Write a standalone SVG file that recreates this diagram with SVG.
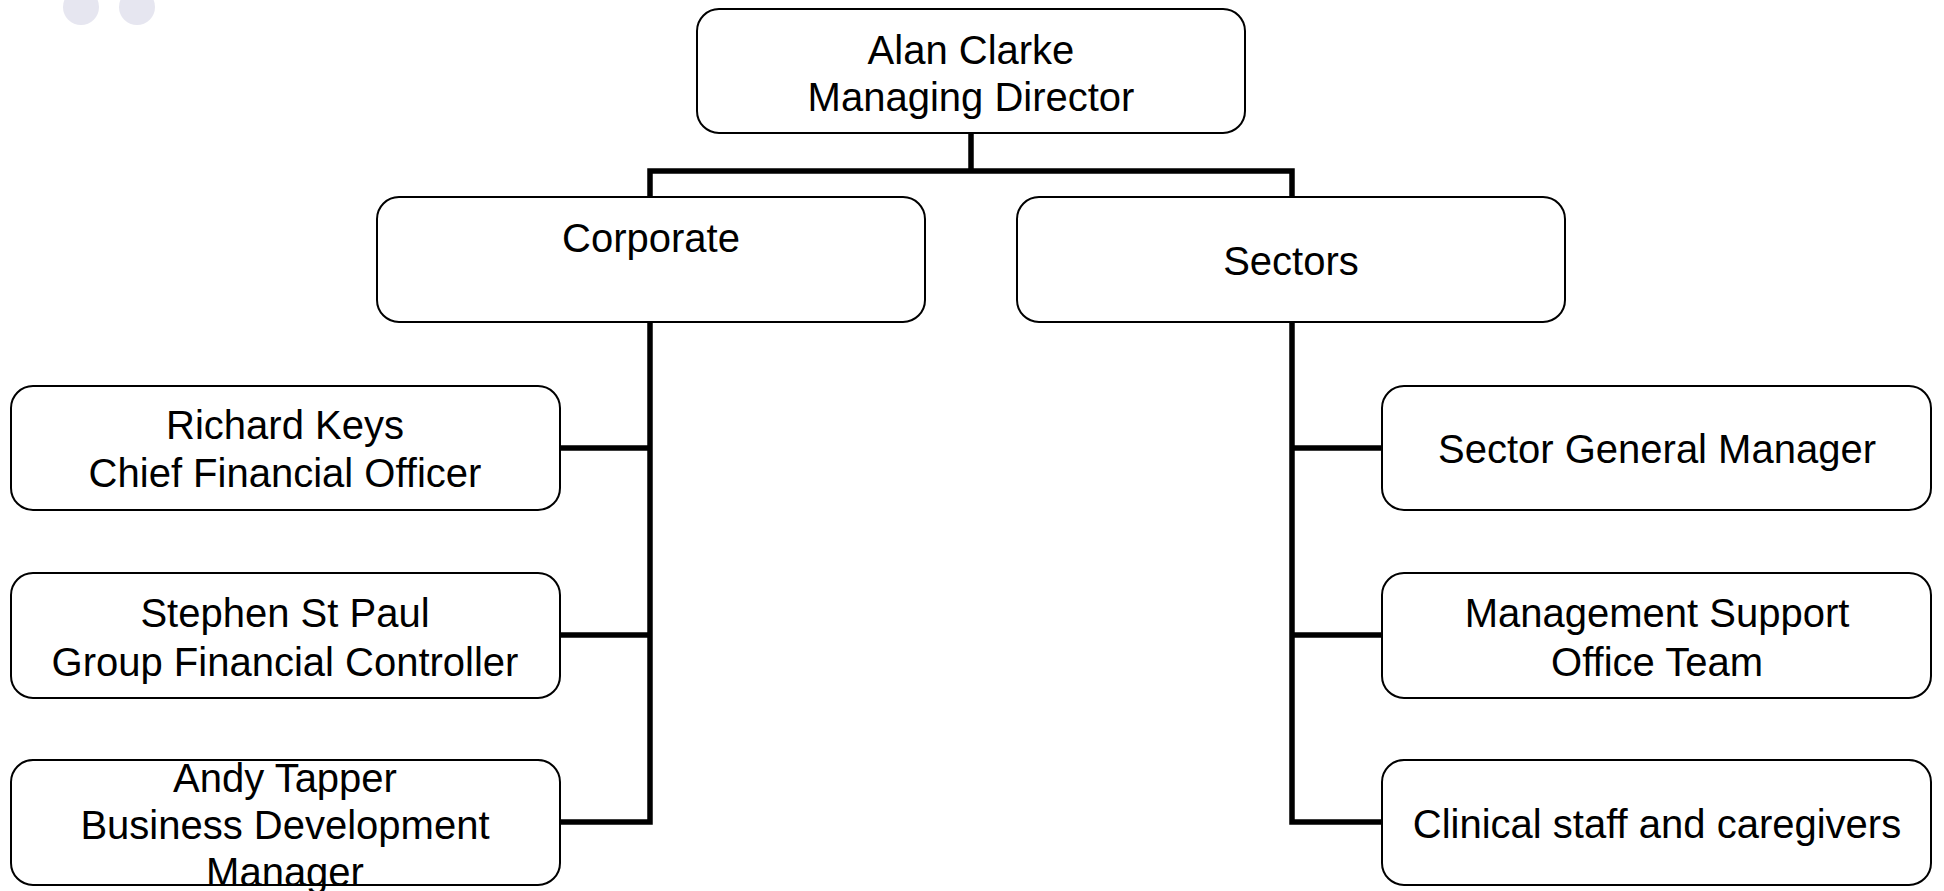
<svg xmlns="http://www.w3.org/2000/svg" width="1944" height="891" viewBox="0 0 1944 891">
<style>
.box{fill:#ffffff;stroke:#000000;stroke-width:2}
.t{font-family:"Liberation Sans",Arial,sans-serif;font-size:40px;fill:#000000;text-anchor:middle}
.c{fill:none;stroke:#000000;stroke-width:5.5;stroke-linecap:square}
.deco{fill:#e6e6f0}
</style>
<rect width="1944" height="891" fill="#ffffff"/>
<g id="decoration">
<circle class="deco" cx="81" cy="7" r="18"/>
<circle class="deco" cx="137" cy="7" r="18"/>
</g>
<g id="connectors">
<path class="c" d="M971 133 V171 M650 171 H1292 M650 171 V197 M1292 171 V197"/>
<path class="c" d="M650 322 V822 H560 M650 448 H560 M650 635 H560"/>
<path class="c" d="M1292 322 V822 H1382 M1292 448 H1382 M1292 635 H1382"/>
</g>
<g id="md">
<rect class="box" x="697" y="9" width="548" height="124" rx="22"/>
<text class="t" x="971" y="64">Alan Clarke</text>
<text class="t" x="971" y="111">Managing Director</text>
</g>
<g id="corporate">
<rect class="box" x="377" y="197" width="548" height="125" rx="22"/>
<text class="t" x="651" y="252">Corporate</text>
</g>
<g id="sectors">
<rect class="box" x="1017" y="197" width="548" height="125" rx="22"/>
<text class="t" x="1291" y="275">Sectors</text>
</g>
<g id="cfo">
<rect class="box" x="11" y="386" width="549" height="124" rx="22"/>
<text class="t" x="285" y="439">Richard Keys</text>
<text class="t" x="285" y="487">Chief Financial Officer</text>
</g>
<g id="gfc">
<rect class="box" x="11" y="573" width="549" height="125" rx="22"/>
<text class="t" x="285" y="627">Stephen St Paul</text>
<text class="t" x="285" y="676">Group Financial Controller</text>
</g>
<g id="bdm">
<rect class="box" x="11" y="760" width="549" height="125" rx="22"/>
<text class="t" x="285" y="792">Andy Tapper</text>
<text class="t" x="285" y="839">Business Development</text>
<text class="t" x="285" y="886">Manager</text>
</g>
<g id="sgm">
<rect class="box" x="1382" y="386" width="549" height="124" rx="22"/>
<text class="t" x="1657" y="463">Sector General Manager</text>
</g>
<g id="msot">
<rect class="box" x="1382" y="573" width="549" height="125" rx="22"/>
<text class="t" x="1657" y="627">Management Support</text>
<text class="t" x="1657" y="676">Office Team</text>
</g>
<g id="clinical">
<rect class="box" x="1382" y="760" width="549" height="125" rx="22"/>
<text class="t" x="1657" y="838">Clinical staff and caregivers</text>
</g>
</svg>
